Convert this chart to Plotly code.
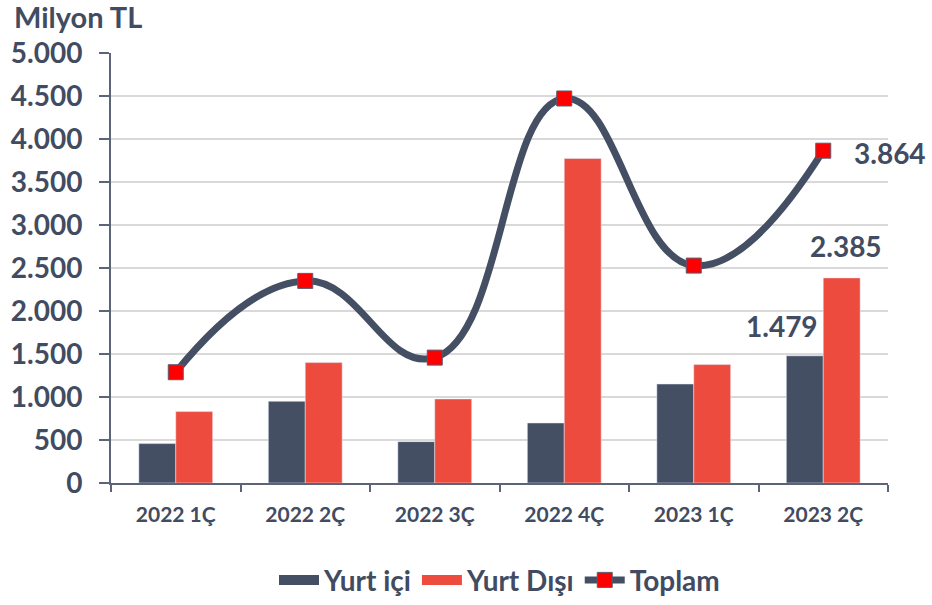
import plotly.graph_objects as go

categories = ["2022 1Ç", "2022 2Ç", "2022 3Ç", "2022 4Ç", "2023 1Ç", "2023 2Ç"]
yurt_ici = [458, 950, 481, 698, 1151, 1479]
yurt_disi = [830, 1400, 977, 3773, 1377, 2385]
toplam = [1288, 2350, 1458, 4471, 2528, 3864]
y_ticks = [0, 500, 1000, 1500, 2000, 2500, 3000, 3500, 4000, 4500, 5000]
y_tick_labels = ["0", "500", "1.000", "1.500", "2.000", "2.500", "3.000", "3.500", "4.000", "4.500", "5.000"]

DARK = "#444f64"
RED = "#ee4b3f"
TXT = "#414b61"
AXC = "#5b6478"
FONT = "Lato"

fig = go.Figure()
fig.add_trace(go.Bar(x=categories, y=yurt_ici, name="Yurt içi", marker_color=DARK,
                     legendgroup="ici", showlegend=False))
fig.add_trace(go.Bar(x=categories, y=yurt_disi, name="Yurt Dışı", marker_color=RED,
                     legendgroup="disi", showlegend=False))
# legend swatches (wide rectangles like the reference)
fig.add_trace(go.Scatter(x=[None], y=[None], mode="lines", name="Yurt içi",
                         line=dict(color=DARK, width=17), legendgroup="ici"))
fig.add_trace(go.Scatter(x=[None], y=[None], mode="lines", name="Yurt Dışı",
                         line=dict(color=RED, width=17), legendgroup="disi"))
fig.add_trace(go.Scatter(
    x=categories, y=toplam, name="Toplam", mode="lines+markers",
    line=dict(color=DARK, width=7, shape="spline", smoothing=1.3),
    marker=dict(symbol="square", size=15, color="#ff0000", line=dict(color="#5a5a70", width=1)),
    cliponaxis=False,
))

def fmt(v):
    return f"{v:,}".replace(",", ".")

last = categories[-1]
fig.add_annotation(x=last, y=yurt_ici[-1], text=fmt(yurt_ici[-1]), showarrow=False,
                   xanchor="center", yanchor="bottom", xshift=-41, yshift=11,
                   font=dict(family=FONT, size=28, color=TXT, weight="bold"))
fig.add_annotation(x=last, y=yurt_disi[-1], text=fmt(yurt_disi[-1]), showarrow=False,
                   xanchor="center", yanchor="bottom", xshift=23, yshift=13,
                   font=dict(family=FONT, size=28, color=TXT, weight="bold"))
fig.add_annotation(x=last, y=toplam[-1], text=fmt(toplam[-1]), showarrow=False,
                   xanchor="left", yanchor="middle", xshift=29, yshift=-2,
                   font=dict(family=FONT, size=28, color=TXT, weight="bold"))

fig.update_layout(
    width=932, height=605,
    margin=dict(l=111, r=44, t=53, b=122, autoexpand=False),
    paper_bgcolor="white", plot_bgcolor="white",
    barmode="group", bargap=0.43, bargroupgap=0,
    font=dict(family=FONT, color=TXT, weight="bold"),
    title=dict(text="Milyon TL", x=14 / 932, xanchor="left", xref="container",
               y=1 - 18 / 605, yanchor="middle", yref="container",
               font=dict(family=FONT, size=29, color=TXT, weight="bold")),
    showlegend=True,
    legend=dict(orientation="h", x=0.5, xanchor="center", y=-0.226, yanchor="middle",
                font=dict(family=FONT, size=28, color=TXT, weight="bold"),
                itemwidth=40, tracegroupgap=0),
    xaxis=dict(type="category", showline=True, linecolor=AXC, linewidth=2,
               ticks="outside", ticklen=7, tickwidth=2, tickcolor=AXC, tickson="boundaries",
               tickfont=dict(family=FONT, size=21, color=TXT, weight="bold"),
               ticklabelstandoff=12, showgrid=False, zeroline=False, range=[-0.5, 5.5],
               automargin=False),
    yaxis=dict(range=[0, 5000], tickvals=y_ticks, ticktext=y_tick_labels,
               showline=True, linecolor=AXC, linewidth=2,
               ticks="outside", ticklen=10, tickwidth=2, tickcolor=AXC,
               tickfont=dict(family=FONT, size=28, color=TXT, weight="bold"),
               ticklabelstandoff=11, automargin=False,
               showgrid=True, gridcolor="#d9d9d9", gridwidth=2, zeroline=False),
    xaxis2=dict(overlaying="x", anchor="y", type="linear", range=[-0.5, 5.5],
                tick0=-0.5, dtick=1, ticks="inside", ticklen=7, tickwidth=2, tickcolor=AXC,
                showticklabels=False, showgrid=False, zeroline=False, showline=False, side="bottom"),
    yaxis2=dict(overlaying="y", anchor="x", range=[0, 5000], tickvals=y_ticks,
                ticks="inside", ticklen=11, tickwidth=2, tickcolor=AXC,
                showticklabels=False, showgrid=False, zeroline=False, showline=False, side="left"),
)

fig.write_html("out.html", config={"displayModeBar": False},
               post_script="document.body.style.margin='0';document.body.style.padding='0';")
